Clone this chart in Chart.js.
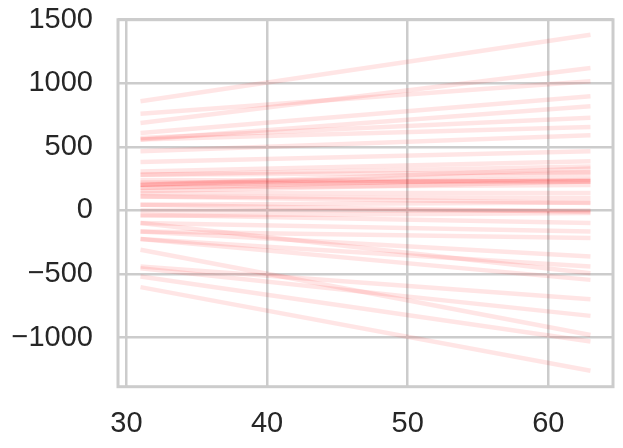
<!DOCTYPE html>
<html>
<head>
<meta charset="utf-8">
<script src="https://cdn.jsdelivr.net/npm/chart.js@4/dist/chart.umd.min.js"></script>
<style>
  html, body { margin: 0; padding: 0; background: #ffffff; }
  #wrap { width: 623px; height: 448px; }
</style>
</head>
<body>
<div id="wrap"><canvas id="c" width="623" height="448"></canvas></div>
<script>
// x positions shared by every line
const xValues = [31, 63];
// value of each line at x = 31
const lineStarts = [858, 688, 761, 609, 557, 570, 557, 465, 381, 307, 281, 202, 240, 202, 176, 150, 137, 110, 280, 220, 45, 45, 110, -42, -34, -99, -165, -165, -225, -99, -225, -309, -441, -454, -520, -603, 0, 202, 180];
// value of each line at x = 63
const lineEnds = [1382, 1121, 1016, 898, 819, 728, 657, 591, 465, 386, 346, 294, 228, 240, 260, 228, 137, 98, 300, 230, 63, -13, 58, -20, -99, -165, -217, -362, -441, -493, -546, -979, -698, -829, -1031, -1260, 0, 330, 200];
// tick labels
const xTicks = [30, 40, 50, 60];
const yTicks = [-1000, -500, 0, 500, 1000, 1500];

const datasets = lineStarts.map((s, i) => ({
  data: [{ x: xValues[0], y: s }, { x: xValues[1], y: lineEnds[i] }],
  borderColor: 'rgba(255,0,0,0.1)',
  borderWidth: 4.5,
  pointRadius: 0,
  borderCapStyle: 'butt',
  fill: false,
  tension: 0
}));

const frame = {
  id: 'frame',
  afterDatasetsDraw(chart) {
    const a = chart.chartArea, ctx = chart.ctx;
    ctx.save();
    ctx.strokeStyle = '#cccccc';
    ctx.lineWidth = 3;
    ctx.strokeRect(a.left, a.top, a.right - a.left, a.bottom - a.top);
    ctx.restore();
  }
};

const fmt = v => (v < 0 ? '\u2212' + Math.abs(v) : String(v));
const tickFont = { family: '"Liberation Sans", Arial, sans-serif', size: 29 };

new Chart(document.getElementById('c'), {
  type: 'line',
  data: { datasets },
  options: {
    responsive: false,
    animation: false,
    events: [],
    layout: { padding: { left: 0, right: 10, top: 19.7, bottom: 0 } },
    plugins: { legend: { display: false }, tooltip: { enabled: false } },
    scales: {
      x: {
        type: 'linear',
        min: 29.4,
        max: 64.6,
        afterBuildTicks: s => { s.ticks = xTicks.map(v => ({ value: v })); },
        afterFit: s => { s.height = 61.3; s.paddingLeft = 0; s.paddingRight = 0; },
        border: { display: false },
        grid: { color: '#cccccc', lineWidth: 2.5, drawTicks: false },
        ticks: {
          padding: 20,
          color: '#262626',
          font: tickFont,
          callback: v => fmt(v),
          maxRotation: 0
        }
      },
      y: {
        type: 'linear',
        min: -1386,
        max: 1500,
        afterBuildTicks: s => { s.ticks = yTicks.map(v => ({ value: v })); },
        afterFit: s => { s.width = 118; s.paddingTop = 0; s.paddingBottom = 0; },
        border: { display: false },
        grid: { color: '#cccccc', lineWidth: 2.5, drawTicks: false },
        ticks: {
          padding: 25,
          color: '#262626',
          font: tickFont,
          callback: v => fmt(v)
        }
      }
    }
  },
  plugins: [frame]
});
</script>
</body>
</html>
